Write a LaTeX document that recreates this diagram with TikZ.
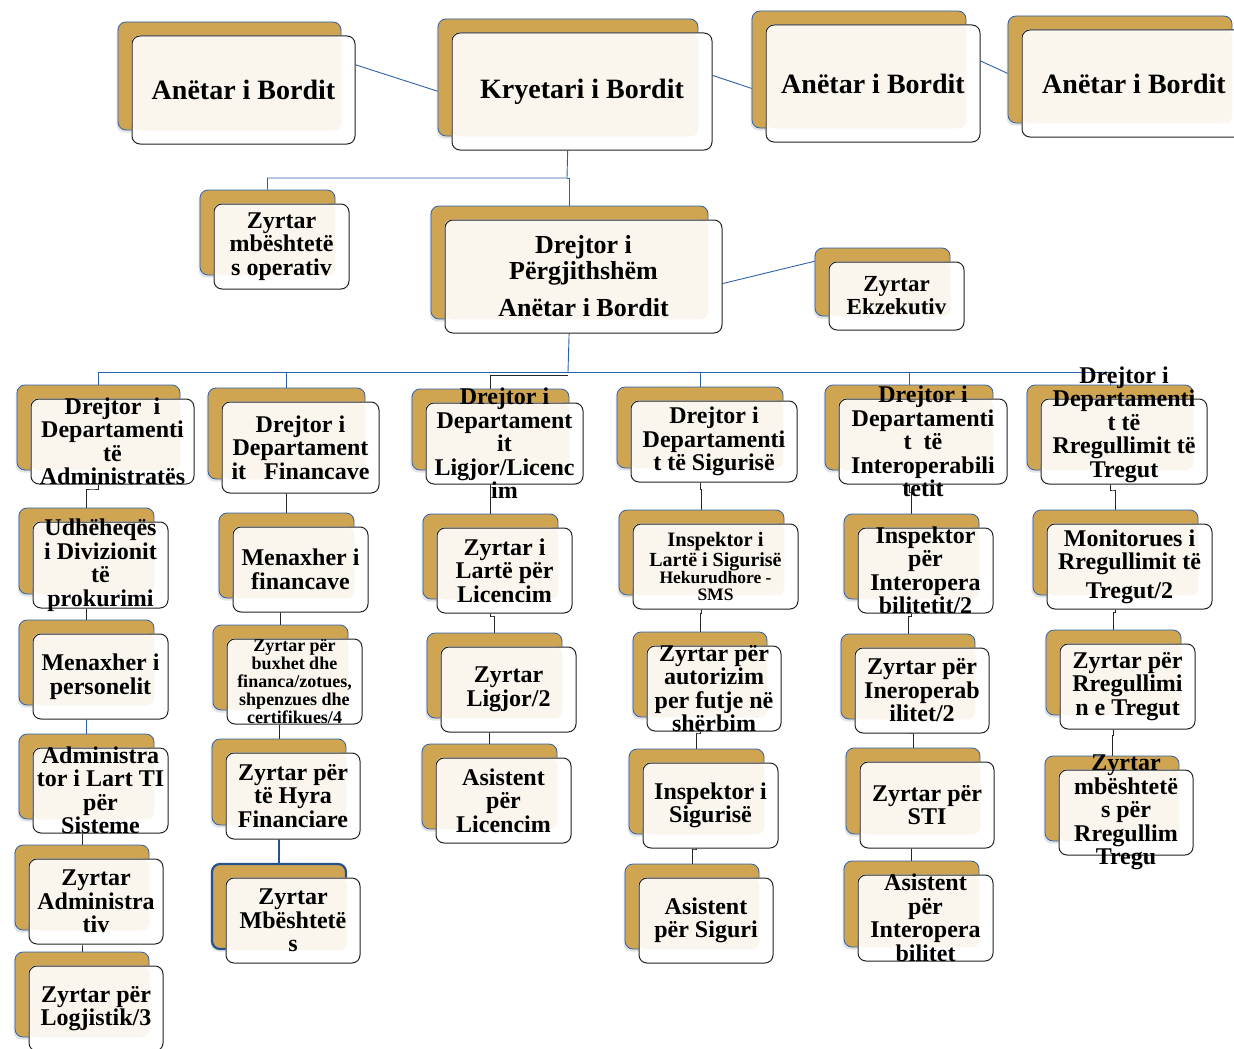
\documentclass[tikz,border=0pt]{standalone}
\usepackage{fontspec}
\setmainfont{Liberation Serif}
\usepackage{tikz}
\usetikzlibrary{positioning,fit,calc,backgrounds,shadows}
\pgfdeclarelayer{vijat}
\pgfsetlayers{vijat,background,main}
\definecolor{ari}{RGB}{207,165,82}
\definecolor{krem}{RGB}{250,246,238}
\definecolor{vija}{RGB}{46,96,170}
\definecolor{kufi}{RGB}{35,35,35}
\tikzstyle{ballina}=[draw=kufi, line width=1pt, rounded corners=8pt, inner sep=0pt]
\tikzstyle{ari}=[fill=ari, draw=vija, line width=0.8pt, rounded corners=8pt, inner sep=0pt,
  drop shadow={opacity=0.22, shadow xshift=-1.5pt, shadow yshift=-2.5pt}]
\tikzstyle{ari c2e}=[draw=vija!85!black, line width=2.2pt]
\tikzstyle{teksti}=[font=\bfseries\fontsize{24}{23.5}\selectfont, align=center, inner sep=0pt]
\tikzstyle{madh}=[font=\bfseries\fontsize{28}{28}\selectfont]
\tikzstyle{vogel}=[font=\bfseries\fontsize{18}{18}\selectfont]
\tikzstyle{lidhje}=[draw=vija, line width=0.9pt]
\tikzstyle{zinxhir}=[draw=black!85, line width=0.9pt,
  to path={|- ($(\tikztostart)!0.5!(\tikztotarget)$) -| (\tikztotarget)}]
% kutia: emri, kendi lart majtas, kendi poshte djathtas, teksti
\newcommand{\kuti}[5][]{%
  \coordinate (#2-nw) at (#3);
  \coordinate (#2-se) at (#4);
  \coordinate (#2-anw) at ($(#3)+(-14,-14)$);
  \coordinate (#2-ase) at ($(#4)+(-14,-14)$);
  \node[ballina, fit=(#2-nw)(#2-se)] (#2) {};
  \node[teksti, #1] (#2-t) at (#2.center) {#5};
  \begin{scope}[on background layer]
    \node[ari, ari #2/.try, fit=(#2-anw)(#2-ase)] (#2-a) {};
    \fill[white, rounded corners=8pt] (#2.north west) rectangle (#2.south east);
    \fill[krem, rounded corners=8pt] (#2.north west) rectangle (#2-a.south east);
  \end{scope}}

\begin{document}
\begin{tikzpicture}[x=1pt, y=-1pt]
\useasboundingbox (0,0) rectangle (1234,1049);

% bordi
\kuti[madh]{b1}{132,36}{355,144}{Anëtar i Bordit}
\kuti[madh]{kry}{452,33}{712,150}{Kryetari i Bordit}
\kuti[madh]{b3}{766,25}{980,142}{Anëtar i Bordit}
\kuti[madh]{b4}{1022,30}{1246,137}{Anëtar i Bordit}

% drejtori
\kuti{op}{214,204}{349,289}{Zyrtar\\mbështetë\\s operativ}
\kuti[font=\bfseries\fontsize{26}{26}\selectfont]{dp}{445,220}{722,333}{Drejtor i\\Përgjithshëm\\[11pt]Anëtar i Bordit}
\kuti[font=\bfseries\fontsize{23}{23}\selectfont]{ek}{829,262}{964,330}{Zyrtar\\Ekzekutiv}

% administrata
\kuti{d1}{31,399}{194,484}{Drejtor~ i\\Departamenti\\të\\Administratës}
\kuti{c1b}{33,522}{168,608}{Udhëheqës\\i Divizionit\\të\\prokurimi}
\kuti{c1c}{33,634}{168,719}{Menaxher i\\personelit}
\kuti{c1d}{33,748}{168,833}{Administra\\tor i Lart TI\\për\\Sisteme}
\kuti{c1e}{29,859}{163,944}{Zyrtar\\Administra\\tiv}
\kuti{c1f}{29,966}{163,1051}{Zyrtar për\\Logjistik/3}

% financat
\kuti{d2}{222,402}{379,493}{Drejtor i\\Departament\\it~~~Financave}
\kuti{c2b}{233,527}{368,612}{Menaxher i\\financave}
\kuti[vogel]{c2c}{227,639}{362,724}{Zyrtar për\\buxhet dhe\\financa/zotues,\\shpenzues dhe\\certifikues/4}
\kuti{c2d}{226,753}{360,839}{Zyrtar për\\të Hyra\\Financiare}
\kuti{c2e}{226,878}{360,963}{Zyrtar\\Mbështetë\\s}

% ligjore
\kuti{d3}{426,403}{583,484}{Drejtor i\\Departament\\it\\Ligjor/Licenc\\im}
\kuti{c3b}{437,528}{572,613}{Zyrtar i\\Lartë për\\Licencim}
\kuti{c3c}{441,647}{576,732}{Zyrtar\\Ligjor/2}
\kuti{c3d}{436,758}{571,843}{Asistent\\për\\Licencim}

% siguria
\kuti{d4}{631,401}{797,482}{Drejtor i\\Departamenti\\t të Sigurisë}
\kuti[font=\bfseries\fontsize{17.5}{17}\selectfont]{c4b}{633,524}{798,609}{{\fontsize{20.5}{20}\selectfont Inspektor i}\\{\fontsize{20}{20}\selectfont Lartë i Sigurisë}\\Hekurudhore -\\SMS}
\kuti{c4c}{647,646}{781,731}{Zyrtar për\\autorizim\\per futje në\\shërbim}
\kuti{c4d}{643,763}{778,848}{Inspektor i\\Sigurisë}
\kuti{c4e}{639,878}{773,963}{Asistent\\për Siguri}

% interoperabiliteti
\kuti{d5}{839,399}{1007,484}{Drejtor i\\Departamenti\\t~~të\\Interoperabili\\tetit}
\kuti{c5b}{858,528}{993,613}{Inspektor\\për\\Interopera\\bilitetit/2}
\kuti{c5c}{855,648}{989,733}{Zyrtar për\\Ineroperab\\ilitet/2}
\kuti{c5d}{860,762}{994,848}{Zyrtar për\\STI}
\kuti{c5e}{858,875}{993,961}{Asistent\\për\\Interopera\\bilitet}

% tregu
\kuti[yshift=17pt]{d6}{1041,399}{1207,484}{Drejtor i\\Departamenti\\t të\\Rregullimit të\\Tregut}
\kuti{c6b}{1047,524}{1212,609}{Monitorues i\\Rregullimit të\\[5pt]Tregut/2}
\kuti{c6c}{1060,644}{1195,729}{Zyrtar për\\Rregullimi\\n e Tregut}
\kuti{c6d}{1059,770}{1193,855}{Zyrtar\\mbështetë\\s për\\Rregullim\\Tregu}

% lidhjet
\begin{pgfonlayer}{vijat}
\draw[lidhje] (b1-a.8) -- (kry-a.186);
\draw[lidhje] (kry-a.3) -- (b3-a.190);
\draw[lidhje] (b3-a.8) -- (b4-a.182);
\coordinate (nyje) at (567,178);
\draw[lidhje] (kry-a.south) -- (nyje) -| (op-a.north);
\draw[lidhje] (nyje) -| (dp-a.north);
\draw[lidhje] (dp-a.-10) -- (ek-a.163);
\coordinate (bus) at (568,372);
\draw[lidhje] (dp-a.south) -- (bus);
\draw[lidhje] (d1-a.north |- bus) -- (d6-a.north |- bus);
\foreach \k in {d1,d2,d4,d5,d6}
  \draw[lidhje] (\k-a.north |- bus) -- (\k-a.north);
\draw[black!85, line width=0.9pt] ($(bus)+(0,3)$) -| (d3-a.north);
\foreach \a/\b in {d1/c1b, c1b/c1c, c1d/c1e, c1e/c1f, d2/c2b, c2b/c2c, c2c/c2d,
  d3/c3b, c3b/c3c, c3c/c3d, d4/c4b, c4b/c4c, c4c/c4d, c4d/c4e,
  d5/c5b, c5b/c5c, c5c/c5d, c5d/c5e, d6/c6b, c6b/c6c, c6c/c6d}
  \draw[zinxhir] (\a-a.south) to (\b-a.north);
\draw[zinxhir, draw=vija] (c1c-a.south) to (c1d-a.north);
\draw[zinxhir, draw=vija!85!black, line width=1.8pt] (c2d-a.south) to (c2e-a.north);
\end{pgfonlayer}

\end{tikzpicture}
\end{document}
